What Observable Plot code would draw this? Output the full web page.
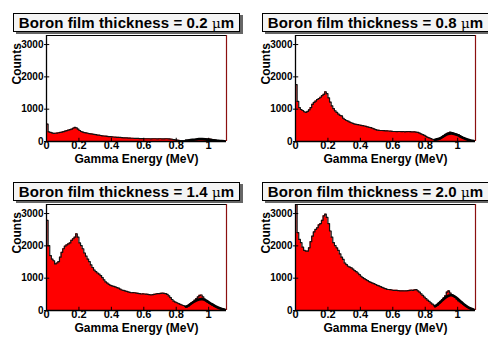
<!DOCTYPE html>
<html>
<head>
<meta charset="utf-8">
<script src="https://cdn.jsdelivr.net/npm/d3@7"></script>
<script src="https://cdn.jsdelivr.net/npm/@observablehq/plot@0.6"></script>
<style>
  html, body { margin: 0; padding: 0; background: #fff; }
  #fig { position: relative; width: 488px; height: 337px; background: #fff; overflow: hidden;
         font-family: "Liberation Sans", Arial, Helvetica, sans-serif; }
  .panel { position: absolute; width: 244px; height: 168px; }
  .panel svg { position: absolute; left: 0; top: 0; }
  .title { position: absolute; top: 13px; height: 19px; width: 227px; box-sizing: border-box;
           background: #f4f4f4; border: 1px solid #000; box-shadow: 3px 2px 0 #666;
           font-weight: bold; font-size: 15px; line-height: 18px; text-align: center; color: #000;
           white-space: nowrap; letter-spacing: 0.1px; }
  .title .mu { font-weight: normal; font-family: "DejaVu Serif", "Liberation Serif", serif; font-size: 13.5px; }
</style>
</head>
<body>
<div id="fig"></div>
<script>
// ---- data ----
const binWidth = 0.01;          // MeV per bin, bins start at 0
const xMax = 1.11;
const yMax = 3280;
const xTicks = [0, 0.2, 0.4, 0.6, 0.8, 1];
const yTicks = [0, 1000, 2000, 3000];
const thicknessLabels = ["0.2", "0.8", "1.4", "2.0"];

const counts02 = [540,300,280,265,250,255,260,270,280,290,
  305,320,335,350,365,380,410,435,420,380,
  340,310,290,275,265,255,245,235,230,220,
  210,200,195,185,175,170,165,160,150,150,
  145,140,135,130,130,125,120,115,115,110,
  105,105,100,100,95,95,95,90,90,90,
  85,85,85,85,80,85,85,85,80,85,
  85,80,80,85,85,80,75,70,60,50,
  40,35,30,30,30,25,30,35,40,45,
  50,55,60,70,80,85,80,80,75,75,
  75,70,60,50,40,30,25,20,15,10,5];

const counts08 = [1760,1240,1050,990,960,920,900,930,980,1050,
  1150,1210,1250,1300,1330,1370,1420,1460,1540,1480,
  1350,1220,1100,1020,950,900,850,810,790,720,
  680,650,630,600,580,560,540,530,520,510,
  500,490,480,470,450,440,430,410,390,370,
  350,345,340,340,335,330,330,325,320,315,
  310,310,305,310,310,305,310,300,305,310,
  305,300,295,300,290,280,260,235,210,190,
  160,130,110,90,70,55,50,55,70,100,
  140,180,220,250,270,290,275,255,240,225,
  210,180,150,120,90,70,50,35,25,15,5];

const counts14 = [2790,2010,1700,1590,1540,1440,1470,1510,1650,1800,
  1910,1990,2030,2060,2090,2170,2220,2270,2375,2270,
  2090,2010,1910,1780,1680,1590,1510,1410,1330,1250,
  1200,1160,1125,1080,1020,950,885,850,810,780,
  760,745,730,710,690,660,635,620,605,590,
  575,560,550,555,550,540,530,520,510,515,
  510,505,500,490,480,490,500,510,520,525,
  530,535,530,520,500,450,400,340,290,260,
  240,215,190,170,155,130,105,135,190,230,
  270,320,365,420,470,480,420,350,290,250,
  220,185,155,135,115,100,85,65,50,35,20];

const counts20 = [3600,2410,2200,2100,1960,1860,1840,1840,1940,2130,
  2300,2430,2510,2560,2650,2690,2790,2930,2980,2880,
  2690,2460,2270,2100,2010,1940,1860,1750,1650,1580,
  1470,1420,1370,1340,1320,1280,1235,1200,1160,1110,
  1060,1020,985,955,925,895,870,850,830,805,
  780,760,740,715,695,675,655,650,645,635,
  625,625,625,615,610,610,610,605,610,615,
  625,630,625,640,645,610,570,515,465,415,
  365,320,280,235,195,160,125,155,230,280,
  330,390,455,570,610,540,490,445,405,350,
  300,265,230,190,155,125,95,70,50,35,20];

// fitted peak curve (black line) sampled at these energies
const fitEnergy = [0.86,0.88,0.90,0.92,0.94,0.96,0.98,1.00,1.02,1.04,1.06,1.08,1.10];
const fit02 = [30,40,52,64,72,72,66,56,44,32,22,14,8];
const fit08 = [50,75,120,180,230,250,235,195,145,100,60,30,12];
const fit14 = [120,170,240,300,340,350,320,260,195,135,85,50,25];
const fit20 = [130,200,290,380,450,470,440,365,275,185,115,60,25];

const panels = [
  {counts: counts02, fit: fit02, label: thicknessLabels[0], left: 0,   top: 0,   shift: 0},
  {counts: counts08, fit: fit08, label: thicknessLabels[1], left: 244, top: 0,   shift: 5},
  {counts: counts14, fit: fit14, label: thicknessLabels[2], left: 0,   top: 169, shift: 0},
  {counts: counts20, fit: fit20, label: thicknessLabels[3], left: 244, top: 169, shift: 5}
];

const fig = document.getElementById("fig");
const font = "Liberation Sans, Arial, Helvetica, sans-serif";

for (const p of panels) {
  const outline = p.counts.map((v, i) => ({x: i * binWidth, y: v}));
  outline.push({x: p.counts.length * binWidth, y: p.counts[p.counts.length - 1]});
  const fitPts = fitEnergy.map((e, i) => ({x: e, y: p.fit[i]}));

  const chart = Plot.plot({
    width: 244,
    height: 168,
    marginLeft: 46 + p.shift,
    marginRight: 18 - p.shift,
    marginTop: 35,
    marginBottom: 27,
    style: {fontFamily: font, background: "transparent", overflow: "visible"},
    x: {domain: [0, xMax]},
    y: {domain: [0, yMax]},
    marks: [
      Plot.areaY(outline, {x: "x", y: "y", curve: "step-after", fill: "#ff0000", clip: true}),
      Plot.line(outline, {x: "x", y: "y", curve: "step-after", stroke: "#111", strokeWidth: 1.2, clip: true}),
      Plot.line(fitPts, {x: "x", y: "y", curve: "natural", stroke: "#000", strokeWidth: 2.6, clip: true}),
      Plot.ruleY([yMax], {stroke: "#000", strokeWidth: 1}),
      Plot.ruleX([xMax], {stroke: "#8b1010", strokeWidth: 1.2}),
      Plot.ruleX([0], {stroke: "#000", strokeWidth: 1.3}),
      Plot.ruleY([0], {stroke: "#000", strokeWidth: 1.3}),
      Plot.ruleY(yTicks, {x1: -0.012, x2: 0.02, stroke: "#000"}),
      Plot.ruleX(xTicks, {y1: 0, y2: 100, stroke: "#000"}),
      Plot.axisY({ticks: yTicks, tickSize: 0, tickPadding: 3, tickFormat: d => String(d),
                  fontSize: 10, fontWeight: "bold", label: null}),
      Plot.axisX({ticks: xTicks, tickSize: 0, tickPadding: 0, tickFormat: d => String(d),
                  fontSize: 11, fontWeight: "bold", label: null}),
      Plot.text(["Gamma Energy (MeV)"], {frameAnchor: "bottom", dy: 21, fontSize: 12, fontWeight: "bold"}),
      Plot.text(["Counts"], {frameAnchor: "left", rotate: -90, dx: -29, dy: -4, fontSize: 12, fontWeight: "bold"})
    ]
  });

  const div = document.createElement("div");
  div.className = "panel";
  div.style.left = p.left + "px";
  div.style.top = p.top + "px";
  div.appendChild(chart);

  const t = document.createElement("div");
  t.className = "title";
  t.style.left = (13 + p.shift) + "px";
  t.innerHTML = "Boron film thickness = " + p.label + " <span class=\"mu\">μ</span>m";
  div.appendChild(t);
  fig.appendChild(div);
}
</script>
</body>
</html>
